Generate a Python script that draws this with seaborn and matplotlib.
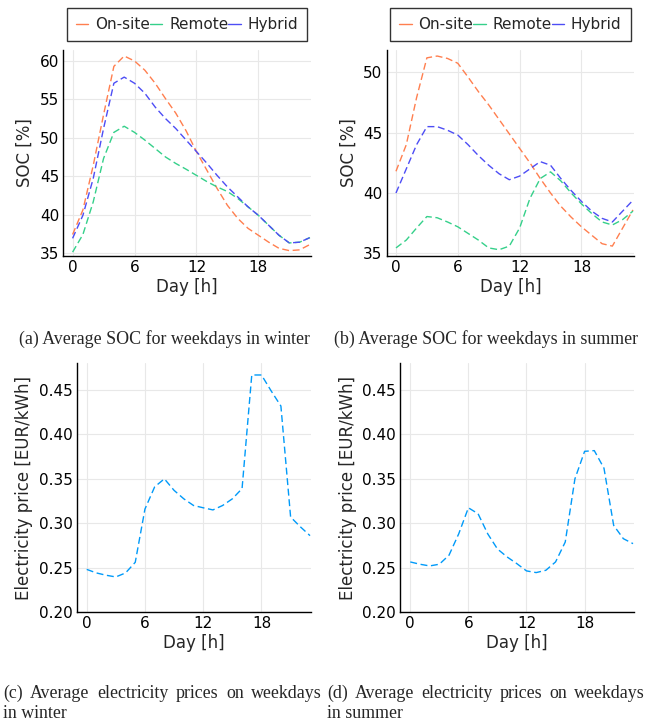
import numpy as np
import pandas as pd
import matplotlib
matplotlib.use("Agg")
import matplotlib.pyplot as plt
import seaborn as sns

# ---------------- data ----------------
hours = list(range(24))

winter_onsite = [37.4, 40.6, 46.4, 53.0, 59.3, 60.65, 60.0, 58.8, 57.1, 55.1, 53.2, 50.9,
                 48.2, 45.8, 43.4, 41.2, 39.5, 38.2, 37.3, 36.4, 35.6, 35.3, 35.4, 36.1]
winter_remote = [35.1, 37.4, 41.65, 47.3, 50.7, 51.5, 50.7, 49.7, 48.6, 47.5, 46.65, 45.9,
                 45.1, 44.3, 43.6, 43.0, 42.1, 41.0, 39.9, 38.6, 37.3, 36.3, 36.4, 37.0]
winter_hybrid = [36.9, 39.9, 44.7, 51.2, 57.1, 57.9, 57.1, 55.8, 54.0, 52.5, 51.2, 49.7,
                 48.2, 46.7, 45.1, 43.6, 42.3, 41.0, 39.9, 38.6, 37.3, 36.3, 36.4, 37.0]

summer_onsite = [41.8, 44.0, 47.9, 51.2, 51.35, 51.15, 50.75, 49.6, 48.4, 47.3, 46.1, 44.9,
                 43.7, 42.5, 41.2, 40.0, 38.9, 38.0, 37.2, 36.5, 35.8, 35.6, 37.1, 38.6]
summer_remote = [35.45, 36.1, 37.1, 38.05, 37.95, 37.6, 37.2, 36.65, 36.1, 35.45, 35.3, 35.6,
                 37.1, 39.55, 41.2, 41.75, 41.0, 40.0, 39.1, 38.3, 37.6, 37.35, 37.8, 38.5]
summer_hybrid = [40.0, 42.0, 44.0, 45.5, 45.5, 45.2, 44.8, 44.0, 43.1, 42.3, 41.6, 41.1,
                 41.4, 42.0, 42.6, 42.3, 41.2, 40.2, 39.3, 38.5, 37.9, 37.6, 38.5, 39.4]

price_winter = [0.248, 0.244, 0.2414, 0.2395, 0.244, 0.256, 0.316, 0.341, 0.350, 0.337, 0.3275, 0.320,
                0.3174, 0.315, 0.320, 0.3275, 0.339, 0.467, 0.467, 0.449, 0.432, 0.307, 0.296, 0.286]
price_summer = [0.2564, 0.2538, 0.2519, 0.2538, 0.264, 0.288, 0.3174, 0.3107, 0.288, 0.271, 0.262, 0.2545,
                0.2463, 0.2444, 0.247, 0.2564, 0.2788, 0.350, 0.381, 0.3818, 0.362, 0.2976, 0.2826, 0.277]

series_names = ["On-site", "Remote", "Hybrid"]
series_colors = ["#ff7f4f", "#35d08a", "#4d4df5"]
price_color = "#009af9"

x_ticks = [0, 6, 12, 18]
soc_ticks_winter = [35, 40, 45, 50, 55, 60]
soc_ticks_summer = [35, 40, 45, 50]
price_ticks = [0.20, 0.25, 0.30, 0.35, 0.40, 0.45]

captions_top = ["(a) Average SOC for weekdays in winter",
                "(b) Average SOC for weekdays in summer"]
captions_bottom = [("(c) Average electricity prices on weekdays", "in winter"),
                   ("(d) Average electricity prices on weekdays", "in summer")]

# ---------------- style ----------------
sns.set_theme(style="white")
plt.rcParams["font.family"] = ["DejaVu Sans"]

W, H = 657, 724
fig = plt.figure(figsize=(W / 100, H / 100), dpi=100)

def px_axes(l, r, t, b):
    return fig.add_axes([l / W, 1 - b / H, (r - l) / W, (b - t) / H])

DASH = (0, (5, 2.6))

def style_axes(ax):
    for s in ["top", "right"]:
        ax.spines[s].set_visible(False)
    for s in ["left", "bottom"]:
        ax.spines[s].set_color("black")
        ax.spines[s].set_linewidth(1.0)
    ax.grid(True, color="#e8e8e8", linewidth=0.8)
    ax.set_axisbelow(True)
    ax.tick_params(axis="both", direction="in", length=3.5, width=0.9,
                   labelsize=11, colors="black", pad=3)
    ax.set_xticks(x_ticks)
    ax.set_xlabel("Day [h]", fontsize=12, labelpad=2)

def soc_panel(ax, data, yticks, ylim):
    df = pd.DataFrame({"hour": hours * 3,
                       "soc": sum(data, []),
                       "mode": sum([[n] * 24 for n in series_names], [])})
    for name, col in zip(series_names, series_colors):
        sub = df[df["mode"] == name]
        sns.lineplot(data=sub, x="hour", y="soc", ax=ax, color=col,
                     linestyle=DASH, linewidth=1.0, label=name)
    style_axes(ax)
    ax.set_xlim(-0.9, 23.1)
    ax.set_ylim(*ylim)
    ax.set_yticks(yticks)
    ax.set_ylabel("SOC [%]", fontsize=12, labelpad=4)
    leg = ax.legend(loc="center", bbox_to_anchor=(0.5, 1.124), ncol=3,
                    fontsize=11, frameon=True, fancybox=False, edgecolor="black",
                    handlelength=0.8, handletextpad=0.45, columnspacing=0.0,
                    borderpad=0.6, borderaxespad=0.0)
    leg.get_frame().set_linewidth(1.0)
    for ln in leg.get_lines():
        ln.set_linestyle("-")

def price_panel(ax, values):
    sns.lineplot(x=hours, y=values, ax=ax, color=price_color,
                 linestyle=DASH, linewidth=1.0)
    style_axes(ax)
    ax.set_xlim(-1.03, 23.1)
    ax.set_ylim(0.2, 0.4805)
    ax.set_yticks(price_ticks)
    ax.set_yticklabels([f"{v:.2f}" for v in price_ticks])
    ax.set_ylabel("Electricity price [EUR/kWh]", fontsize=12, labelpad=4)

ax_a = px_axes(63.3, 311, 50, 256)
ax_b = px_axes(386.7, 634, 50, 256)
ax_c = px_axes(76.7, 311, 363, 612)
ax_d = px_axes(400.3, 634, 363, 612)

soc_panel(ax_a, [winter_onsite, winter_remote, winter_hybrid], soc_ticks_winter, (34.6, 61.43))
soc_panel(ax_b, [summer_onsite, summer_remote, summer_hybrid], soc_ticks_summer, (34.78, 51.85))
price_panel(ax_c, price_winter)
price_panel(ax_d, price_summer)

# ---------------- captions ----------------
cap_kw = dict(family=["Liberation Serif", "DejaVu Serif"], fontsize=12.9, va="center")
fig.text(164.5 / W, 1 - 339 / H, captions_top[0], ha="center", **cap_kw)
fig.text(486 / W, 1 - 339 / H, captions_top[1], ha="center", **cap_kw)

fig.canvas.draw()
renderer = fig.canvas.get_renderer()

def justified(line, x0, x1, y):
    words = line.split(" ")
    texts = [fig.text(0, 1 - y / H, w, ha="left", **cap_kw) for w in words]
    widths = [t.get_window_extent(renderer).width for t in texts]
    gap = ((x1 - x0) - sum(widths)) / (len(words) - 1)
    x = x0
    for t, w in zip(texts, widths):
        t.set_x(x / W)
        x += w + gap

justified(captions_bottom[0][0], 3, 322, 693)
fig.text(3 / W, 1 - 713 / H, captions_bottom[0][1], ha="left", **cap_kw)
justified(captions_bottom[1][0], 327, 645, 693)
fig.text(327 / W, 1 - 713 / H, captions_bottom[1][1], ha="left", **cap_kw)

fig.savefig("out.png", dpi=100, facecolor="white")
